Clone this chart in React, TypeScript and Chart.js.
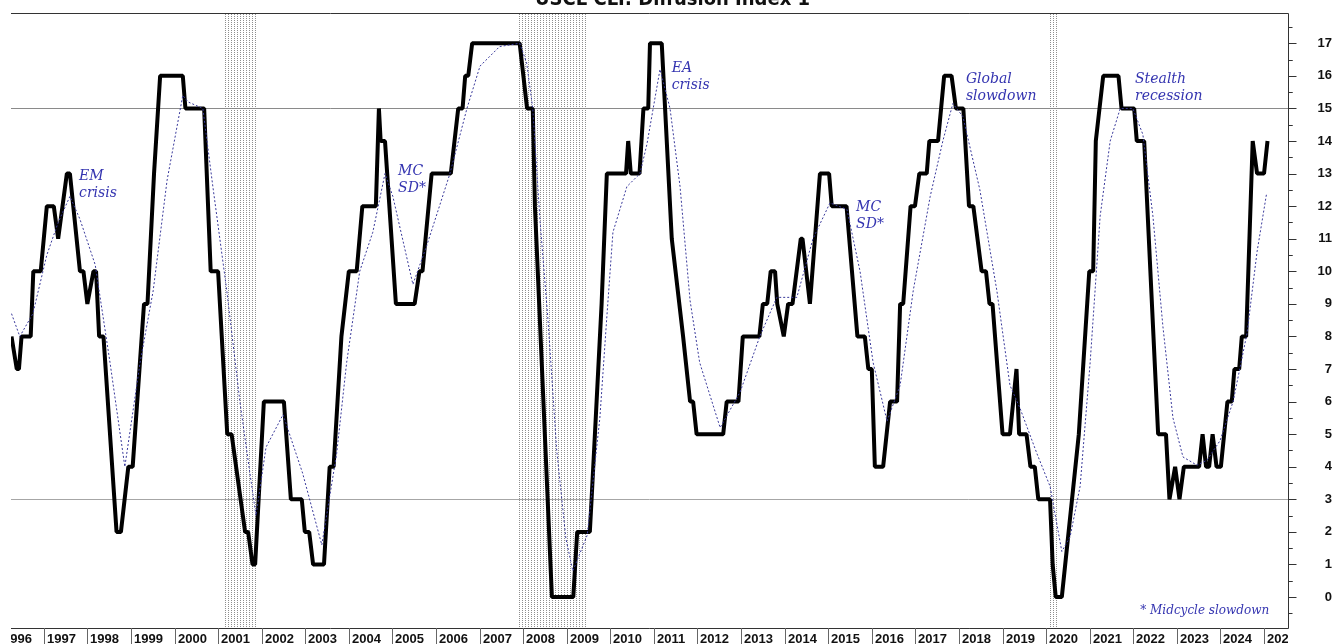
import React, { useEffect, useRef } from 'react';
import { Chart, registerables } from 'chart.js';

Chart.register(...registerables);

// ---- Data ----
const titleText = 'USCL CLI: Diffusion Index 1';

const cliDates = [
  1996.26, 1996.38, 1996.43, 1996.49, 1996.70, 1996.76, 1996.93, 1997.07, 1997.23, 1997.33,
  1997.53, 1997.60, 1997.83, 1997.91, 1998.00, 1998.14, 1998.20, 1998.27, 1998.37, 1998.67,
  1998.77, 1998.94, 1999.04, 1999.30, 1999.38, 1999.53, 1999.67, 2000.19, 2000.25, 2000.68,
  2000.83, 2001.00, 2001.21, 2001.31, 2001.62, 2001.69, 2001.79, 2001.85, 2002.05, 2002.51,
  2002.67, 2002.92, 2002.99, 2003.09, 2003.18, 2003.43, 2003.56, 2003.65, 2003.83, 2004.00,
  2004.18, 2004.31, 2004.62, 2004.69, 2004.73, 2004.83, 2005.08, 2005.51, 2005.62, 2005.69,
  2005.90, 2006.34, 2006.51, 2006.61, 2006.67, 2006.74, 2006.83, 2007.92, 2008.09, 2008.22,
  2008.27, 2008.66, 2009.15, 2009.24, 2009.53, 2009.57, 2009.80, 2009.92, 2010.36, 2010.41,
  2010.47, 2010.67, 2010.76, 2010.87, 2010.91, 2011.18, 2011.41, 2011.67, 2011.83, 2011.90,
  2011.98, 2012.59, 2012.67, 2012.94, 2013.04, 2013.42, 2013.50, 2013.60, 2013.68, 2013.78,
  2013.83, 2013.98, 2014.08, 2014.18, 2014.37, 2014.41, 2014.58, 2014.81, 2015.02, 2015.08,
  2015.42, 2015.67, 2015.84, 2015.92, 2016.00, 2016.07, 2016.26, 2016.42, 2016.58, 2016.65,
  2016.72, 2016.89, 2016.99, 2017.09, 2017.26, 2017.32, 2017.52, 2017.66, 2017.83, 2017.93,
  2018.10, 2018.23, 2018.33, 2018.52, 2018.62, 2018.70, 2018.77, 2019.00, 2019.17, 2019.32,
  2019.38, 2019.55, 2019.64, 2019.74, 2019.82, 2020.09, 2020.15, 2020.22, 2020.36, 2020.75,
  2020.99, 2021.08, 2021.14, 2021.31, 2021.66, 2021.73, 2022.02, 2022.08, 2022.25, 2022.57,
  2022.75, 2022.83, 2022.96, 2023.06, 2023.16, 2023.51, 2023.59, 2023.67, 2023.74, 2023.82,
  2023.91, 2024.01, 2024.16, 2024.26, 2024.32, 2024.43, 2024.49, 2024.59, 2024.74, 2024.84,
  2025.00, 2025.08,
];
const cliValues = [
  8, 7, 7, 8, 8, 10, 10, 12, 12, 11,
  13, 13, 10, 10, 9, 10, 10, 8, 8, 2,
  2, 4, 4, 9, 9, 13, 16, 16, 15, 15,
  10, 10, 5, 5, 2, 2, 1, 1, 6, 6,
  3, 3, 2, 2, 1, 1, 4, 4, 8, 10,
  10, 12, 12, 15, 14, 14, 9, 9, 10, 10,
  13, 13, 15, 15, 16, 16, 17, 17, 15, 15,
  12, 0, 0, 2, 2, 3, 9, 13, 13, 14,
  13, 13, 15, 15, 17, 17, 11, 8, 6, 6,
  5, 5, 6, 6, 8, 8, 9, 9, 10, 10,
  9, 8, 9, 9, 11, 11, 9, 13, 13, 12,
  12, 8, 8, 7, 7, 4, 4, 6, 6, 9,
  9, 12, 12, 13, 13, 14, 14, 16, 16, 15,
  15, 12, 12, 10, 10, 9, 9, 5, 5, 7,
  5, 5, 4, 4, 3, 3, 1, 0, 0, 5,
  10, 10, 14, 16, 16, 15, 15, 14, 14, 5,
  5, 3, 4, 3, 4, 4, 5, 4, 4, 5,
  4, 4, 6, 6, 7, 7, 8, 8, 14, 13,
  13, 14,
];

const maDates = [
  1996.26, 1996.45, 1996.75, 1997.07, 1997.33, 1997.60, 1997.83, 1998.18, 1998.52, 1998.86,
  1999.21, 1999.51, 1999.83, 2000.19, 2000.31, 2000.65, 2000.88, 2001.20, 2001.50, 2001.73,
  2001.87, 2002.10, 2002.49, 2002.94, 2003.38, 2003.72, 2003.95, 2004.09, 2004.25, 2004.55,
  2004.83, 2005.01, 2005.47, 2005.79, 2006.32, 2006.71, 2007.01, 2007.46, 2007.92, 2008.08,
  2008.22, 2008.39, 2008.57, 2008.77, 2008.98, 2009.14, 2009.47, 2009.76, 2009.92, 2010.06,
  2010.38, 2010.68, 2010.84, 2011.14, 2011.37, 2011.60, 2011.83, 2012.05, 2012.52, 2012.98,
  2013.43, 2013.82, 2014.28, 2014.65, 2015.04, 2015.43, 2015.73, 2016.03, 2016.35, 2016.65,
  2016.95, 2017.34, 2017.63, 2017.86, 2018.09, 2018.48, 2018.87, 2019.17, 2019.40, 2019.79,
  2020.09, 2020.36, 2020.55, 2020.78, 2021.01, 2021.24, 2021.47, 2021.70, 2021.99, 2022.22,
  2022.45, 2022.68, 2022.91, 2023.14, 2023.46, 2023.69, 2023.99, 2024.29, 2024.61, 2024.84,
  2025.06,
];
const maValues = [
  8.7, 8.0, 8.7, 10.5, 11.5, 12.3, 11.6, 10.2, 7.2, 4.0,
  7.2, 9.4, 12.8, 15.4, 15.2, 15.0, 12.6, 9.4, 6.0, 3.8,
  2.5, 4.6, 5.6, 3.8, 1.6, 4.4, 7.2, 8.5, 10.0, 11.2,
  13.0, 12.3, 9.6, 10.8, 13.0, 15.0, 16.3, 16.9, 17.0, 16.4,
  15.0, 11.5, 8.5, 4.5, 1.8, 0.8, 1.9, 5.5, 8.6, 11.2,
  12.6, 13.0, 13.9, 16.2, 15.0, 12.6, 9.1, 7.2, 5.2, 6.3,
  8.0, 9.2, 9.2, 11.0, 12.1, 11.9, 10.0, 7.2, 5.4, 6.5,
  9.4, 12.3, 14.0, 15.15, 14.75, 12.5, 9.4, 6.5, 5.8, 4.4,
  3.4, 1.4, 1.85, 3.4, 7.2, 11.7, 14.0, 15.0, 15.0, 14.2,
  11.7, 8.3, 5.5, 4.3, 4.05, 4.2, 4.8, 6.0, 8.1, 10.6,
  12.4,
];

const yearLabels = [
  1996, 1997, 1998, 1999, 2000, 2001, 2002, 2003, 2004, 2005,
  2006, 2007, 2008, 2009, 2010, 2011, 2012, 2013, 2014, 2015,
  2016, 2017, 2018, 2019, 2020, 2021, 2022, 2023, 2024, 2025,
];

const recessionStarts = [2001.16, 2007.89, 2020.07];
const recessionEnds = [2001.87, 2009.44, 2020.26];

const referenceLevels = [15, 3];

const noteLines = [
  ['EM', 'crisis'],
  ['MC', 'SD*'],
  ['EA', 'crisis'],
  ['MC', 'SD*'],
  ['Global', 'slowdown'],
  ['Stealth', 'recession'],
  ['* Midcycle slowdown'],
];
const noteYears = [1997.81, 2005.13, 2011.41, 2015.64, 2018.16, 2022.04, 2022.16];
const noteLevels = [12.9, 13.08, 16.24, 11.97, 15.9, 15.9, -0.43];
const noteSizes = [14, 14, 14, 14, 14, 14, 12];

const X_MIN = 1996.248;
const X_MAX = 2025.55;
const Y_MIN = -0.95;
const Y_MAX = 17.93;

const LABEL_FONT = "bold 13px 'Liberation Sans', Arial, sans-serif";

const overlayPlugin = {
  id: 'overlay',
  beforeDatasetsDraw(chart: any) {
    const { ctx, chartArea: a, scales } = chart;
    const x = scales.x;
    const y = scales.y;
    ctx.save();
    // recession bands (dotted pattern)
    const pc = document.createElement('canvas');
    pc.width = 3;
    pc.height = 2;
    const pctx = pc.getContext('2d')!;
    pctx.fillStyle = '#8e8e8e';
    pctx.fillRect(0, 0, 1, 1);
    const pat = ctx.createPattern(pc, 'repeat');
    for (let i = 0; i < recessionStarts.length; i++) {
      const x0 = Math.round(x.getPixelForValue(recessionStarts[i]));
      const x1 = Math.round(x.getPixelForValue(recessionEnds[i]));
      ctx.fillStyle = pat;
      ctx.fillRect(x0, a.top, x1 - x0, a.bottom - a.top);
    }
    // reference lines
    referenceLevels.forEach((lv, i) => {
      const py = Math.round(y.getPixelForValue(lv)) + 0.5;
      ctx.strokeStyle = i === 0 ? '#8a8a8a' : '#a6a6a6';
      ctx.lineWidth = 1;
      ctx.beginPath();
      ctx.moveTo(a.left, py);
      ctx.lineTo(a.right, py);
      ctx.stroke();
    });
    ctx.restore();
  },
  afterDatasetsDraw(chart: any) {
    const { ctx, chartArea: a, scales } = chart;
    const x = scales.x;
    const y = scales.y;
    const W = chart.width;
    const H = chart.height;
    ctx.save();
    // frame: top, right, bottom
    ctx.strokeStyle = '#333';
    ctx.lineWidth = 1;
    ctx.beginPath();
    ctx.moveTo(a.left, Math.round(a.top) + 0.5);
    ctx.lineTo(Math.round(a.right) + 0.5, Math.round(a.top) + 0.5);
    ctx.lineTo(Math.round(a.right) + 0.5, Math.round(a.bottom) + 0.5);
    ctx.lineTo(a.left, Math.round(a.bottom) + 0.5);
    ctx.stroke();

    // y axis tick marks (major on library ticks, minor halfway)
    const rx = Math.round(a.right) + 0.5;
    ctx.beginPath();
    y.ticks.forEach((t: any) => {
      const py = Math.round(y.getPixelForValue(t.value)) + 0.5;
      ctx.moveTo(rx, py);
      ctx.lineTo(rx + 8, py);
      [t.value - 0.5, t.value + 0.5].forEach((mv) => {
        if (mv > Y_MIN && mv < Y_MAX) {
          const my = Math.round(y.getPixelForValue(mv)) + 0.5;
          ctx.moveTo(rx, my);
          ctx.lineTo(rx + 4, my);
        }
      });
    });
    ctx.stroke();

    // x axis year separators and labels
    ctx.save();
    ctx.beginPath();
    ctx.rect(a.left, a.bottom, a.right - a.left, H - a.bottom);
    ctx.clip();
    ctx.font = LABEL_FONT;
    ctx.fillStyle = '#111';
    ctx.textAlign = 'left';
    ctx.textBaseline = 'alphabetic';
    ctx.strokeStyle = '#666';
    yearLabels.forEach((yr) => {
      const px = Math.round(x.getPixelForValue(yr)) + 0.5;
      ctx.beginPath();
      ctx.moveTo(px, a.bottom);
      ctx.lineTo(px, H);
      ctx.stroke();
      ctx.fillText(String(yr), px + 2.5, H - 1);
    });
    ctx.restore();

    // annotations
    ctx.fillStyle = '#3434b0';
    ctx.textAlign = 'left';
    ctx.textBaseline = 'middle';
    noteLines.forEach((lines, i) => {
      ctx.font = `italic ${noteSizes[i]}px 'DejaVu Serif', serif`;
      const px = x.getPixelForValue(noteYears[i]);
      const py = y.getPixelForValue(noteLevels[i]);
      lines.forEach((ln, j) => ctx.fillText(ln, px, py + j * 17));
    });

    // title (cut at the top edge)
    ctx.font = "bold 20px 'DejaVu Sans Condensed', 'Liberation Sans Narrow', 'Liberation Sans', sans-serif";
    ctx.fillStyle = '#111';
    ctx.textAlign = 'center';
    ctx.textBaseline = 'alphabetic';
    ctx.fillText(titleText, W / 2 + 6, 5, 290);
    ctx.restore();
  },
};

export default function App() {
  const ref = useRef<HTMLCanvasElement>(null);
  useEffect(() => {
    document.body.style.margin = '0';
    document.body.style.overflow = 'hidden';
    const cliPoints = cliDates.map((d, i) => ({ x: d, y: cliValues[i] }));
    const maPoints = maDates.map((d, i) => ({ x: d, y: maValues[i] }));
    const chart = new Chart(ref.current!, {
      type: 'line',
      data: {
        datasets: [
          {
            label: 'Moving average',
            data: maPoints,
            borderColor: '#38389a',
            borderWidth: 1,
            borderDash: [2, 2],
            pointRadius: 0,
            tension: 0,
            fill: false,
            order: 0,
          },
          {
            label: 'USCL CLI Diffusion Index',
            data: cliPoints,
            borderColor: '#000000',
            borderWidth: 4,
            borderJoinStyle: 'bevel',
            pointRadius: 0,
            tension: 0,
            fill: false,
            order: 1,
          },
        ],
      },
      options: {
        animation: false,
        responsive: false,
        layout: { padding: { left: 11, top: 13, right: 1, bottom: 16 } },
        plugins: {
          legend: { display: false },
          tooltip: { enabled: false },
          title: { display: false },
        },
        scales: {
          x: { type: 'linear', min: X_MIN, max: X_MAX, display: false },
          y: {
            position: 'right',
            min: Y_MIN,
            max: Y_MAX,
            afterFit: (s: any) => {
              s.width = 44;
            },
            grid: { display: false },
            border: { display: false },
            ticks: {
              stepSize: 1,
              includeBounds: false,
              crossAlign: 'far',
              padding: 0,
              color: '#111',
              font: { family: "'Liberation Sans', Arial, sans-serif", size: 13, weight: 'bold' },
              callback: (v: any) => String(v),
            },
          },
        },
      } as any,
      plugins: [overlayPlugin],
    });
    return () => chart.destroy();
  }, []);
  return (
    <div style={{ width: 1333, height: 644, background: '#fff' }}>
      <canvas ref={ref} width={1333} height={644} style={{ display: 'block' }} />
    </div>
  );
}
